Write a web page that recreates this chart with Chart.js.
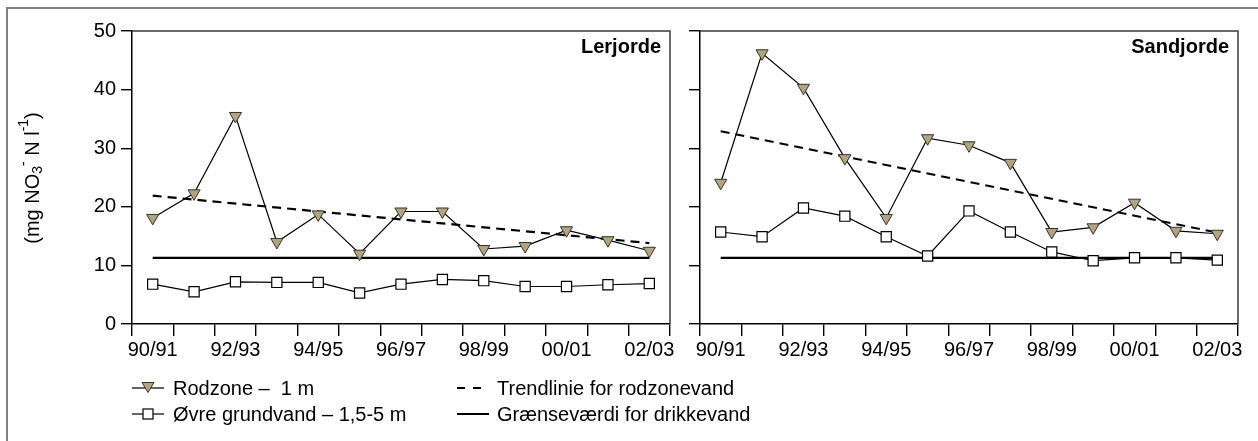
<!DOCTYPE html>
<html>
<head>
<meta charset="UTF-8">
<script src="https://cdn.jsdelivr.net/npm/chart.js@4.4.0/dist/chart.umd.min.js"></script>
<style>
    body {
        margin: 0;
        width: 1258px;
        height: 441px;
        overflow: hidden;
        background: #fff;
        position: relative;
        font-family: "Liberation Sans", Arial, sans-serif;
    }
    .frame {
        position: absolute;
        left: 6px;
        top: 7px;
        width: 1300px;
        height: 500px;
        border-left: 2px solid #808080;
        border-top: 2px solid #808080;
    }
    canvas { position: absolute; top: 0; }
    #lerChart { left: 0; }
    #sandChart { left: 675px; }
    .item {
        position: absolute;
        font-size: 20px;
        line-height: 24px;
        height: 24px;
        white-space: pre;
        color: #000;
    }
    .item svg { position: absolute; left: 0; top: 0; }
    .item span { position: absolute; top: 0; }
</style>
</head>
<body>

<div class="frame"></div>
<canvas id="lerChart" width="680" height="441"></canvas>
<canvas id="sandChart" width="583" height="441"></canvas>

<div class="item" style="left:130px; top:376px;">
    <svg width="36" height="24"><line x1="2" y1="12" x2="34" y2="12" stroke="#000" stroke-width="1.2"/><polygon points="12,6.5 24,6.5 18,16.5" fill="#b3a47c" stroke="#333" stroke-width="1"/></svg>
    <span style="left:43px;">Rodzone –  1 m</span>
</div>
<div class="item" style="left:130px; top:402px;">
    <svg width="36" height="24"><line x1="2" y1="12" x2="34" y2="12" stroke="#000" stroke-width="1.2"/><rect x="13" y="7" width="10" height="10" fill="#fff" stroke="#000" stroke-width="1.2"/></svg>
    <span style="left:43px;">Øvre grundvand – 1,5-5 m</span>
</div>
<div class="item" style="left:455px; top:376px;">
    <svg width="36" height="24"><line x1="2" y1="12" x2="26" y2="12" stroke="#000" stroke-width="2" stroke-dasharray="8,8"/></svg>
    <span style="left:42px;">Trendlinie for rodzonevand</span>
</div>
<div class="item" style="left:455px; top:402px;">
    <svg width="36" height="24"><line x1="2" y1="12" x2="34" y2="12" stroke="#000" stroke-width="2"/></svg>
    <span style="left:42px;">Grænseværdi for drikkevand</span>
</div>

<script>
const seasons = ['90/91', '91/92', '92/93', '93/94', '94/95', '95/96', '96/97',
                 '97/98', '98/99', '99/00', '00/01', '01/02', '02/03'];

// nitrate, mg NO3-N per litre
const lerRodzone = [18.1, 22.3, 35.5, 14.0, 18.7, 12.0, 19.2, 19.2, 12.8, 13.3, 16.0, 14.3, 12.5];
const lerGrundvand = [6.8, 5.5, 7.2, 7.1, 7.1, 5.3, 6.8, 7.6, 7.4, 6.4, 6.4, 6.7, 6.9];
const lerTrend = [21.9, null, null, null, null, null, null, null, null, null, null, null, 13.8];

const sandRodzone = [24.1, 46.2, 40.3, 28.3, 18.1, 31.7, 30.5, 27.5, 15.7, 16.5, 20.7, 15.9, 15.4];
const sandGrundvand = [15.7, 14.9, 19.8, 18.4, 14.9, 11.6, 19.3, 15.7, 12.3, 10.8, 11.3, 11.3, 10.9];
const sandTrend = [32.9, null, null, null, null, null, null, null, null, null, null, null, 15.6];

const limitValue = 11.3;
const yTicks = [0, 10, 20, 30, 40, 50];

const FONT = '"Liberation Sans", Arial, sans-serif';

// box line on top and right of each plot + the soil type label
const panelFrame = {
    id: 'panelFrame',
    afterDraw(chart, args, opts) {
        const a = chart.chartArea;
        const ctx = chart.ctx;
        ctx.save();
        ctx.strokeStyle = '#3a3a3a';
        ctx.lineWidth = 1.5;
        ctx.beginPath();
        ctx.moveTo(a.left, a.top);
        ctx.lineTo(a.right, a.top);
        ctx.lineTo(a.right, a.bottom);
        ctx.stroke();
        ctx.fillStyle = '#000';
        ctx.font = 'bold 20px ' + FONT;
        ctx.textAlign = 'right';
        ctx.textBaseline = 'middle';
        ctx.fillText(opts.title, a.right - 9, a.top + 16);
        ctx.restore();
    }
};

// rotated unit label with sub- and superscripts
const unitLabel = {
    id: 'unitLabel',
    afterDraw(chart, args, opts) {
        if (!opts.show) return;
        const ctx = chart.ctx;
        const size = 20;
        const parts = [
            { t: '(mg NO', s: 1, dy: 0 },
            { t: '3', s: 0.68, dy: 0.28 },
            { t: '-', s: 0.68, dy: -0.42 },
            { t: ' N l', s: 1, dy: 0 },
            { t: '-1', s: 0.68, dy: -0.42 },
            { t: ')', s: 1, dy: 0 }
        ];
        ctx.save();
        let total = 0;
        parts.forEach(p => {
            ctx.font = Math.round(size * p.s) + 'px ' + FONT;
            p.w = ctx.measureText(p.t).width;
            total += p.w;
        });
        ctx.translate(33, 178);
        ctx.rotate(-Math.PI / 2);
        ctx.fillStyle = '#000';
        ctx.textBaseline = 'middle';
        let x = -total / 2;
        parts.forEach(p => {
            ctx.font = Math.round(size * p.s) + 'px ' + FONT;
            ctx.fillText(p.t, x, p.dy * size);
            x += p.w;
        });
        ctx.restore();
    }
};

function makePanel(id, title, rodzone, grundvand, trend, yWidth, padRight, showLabels) {
    const limit = seasons.map(() => limitValue);
    return new Chart(document.getElementById(id), {
        type: 'line',
        data: {
            labels: seasons,
            datasets: [
                {
                    label: 'Rodzone – 1 m',
                    data: rodzone,
                    borderColor: '#000',
                    borderWidth: 1.2,
                    pointStyle: 'triangle',
                    rotation: 180,
                    pointRadius: 7,
                    pointBackgroundColor: '#b3a47c',
                    pointBorderColor: '#333',
                    pointBorderWidth: 1,
                    tension: 0
                },
                {
                    label: 'Øvre grundvand – 1,5-5 m',
                    data: grundvand,
                    borderColor: '#000',
                    borderWidth: 1.2,
                    pointStyle: 'rect',
                    pointRadius: 7.2,
                    pointBackgroundColor: '#fff',
                    pointBorderColor: '#000',
                    pointBorderWidth: 1.2,
                    tension: 0
                },
                {
                    label: 'Trendlinie for rodzonevand',
                    data: trend,
                    borderColor: '#000',
                    borderWidth: 2.2,
                    borderDash: [9, 6],
                    pointRadius: 0,
                    spanGaps: true
                },
                {
                    label: 'Grænseværdi for drikkevand',
                    data: limit,
                    borderColor: '#000',
                    borderWidth: 2.2,
                    pointRadius: 0
                }
            ]
        },
        options: {
            responsive: false,
            animation: false,
            events: [],
            layout: { padding: { left: 0, right: padRight, top: 31, bottom: 0 } },
            plugins: {
                legend: { display: false },
                tooltip: { enabled: false },
                panelFrame: { title: title },
                unitLabel: { show: showLabels }
            },
            scales: {
                x: {
                    type: 'category',
                    offset: true,
                    grid: { offset: true, drawOnChartArea: false, tickLength: 12, color: '#000', lineWidth: 1.4 },
                    border: { color: '#000', width: 1.5 },
                    ticks: {
                        autoSkip: false,
                        maxRotation: 0,
                        padding: 2,
                        color: '#000',
                        font: { size: 20, family: FONT },
                        callback: (v, i) => i % 2 === 0 ? seasons[i] : ''
                    },
                    afterFit: s => { s.height = 441 - 324; }
                },
                y: {
                    min: 0,
                    max: 50,
                    afterBuildTicks: s => { s.ticks = yTicks.map(v => ({ value: v })); },
                    grid: { drawOnChartArea: false, tickLength: 11, color: '#000', lineWidth: 1.4 },
                    border: { color: '#000', width: 1.5 },
                    ticks: {
                        padding: 5,
                        color: '#000',
                        font: { size: 20, family: FONT },
                        callback: v => showLabels ? v : ''
                    },
                    afterFit: s => { s.width = yWidth; }
                }
            }
        },
        plugins: [panelFrame, unitLabel]
    });
}

makePanel('lerChart', 'Lerjorde', lerRodzone, lerGrundvand, lerTrend, 132, 10, true);
makePanel('sandChart', 'Sandjorde', sandRodzone, sandGrundvand, sandTrend, 25, 20, false);
</script>

</body>
</html>
